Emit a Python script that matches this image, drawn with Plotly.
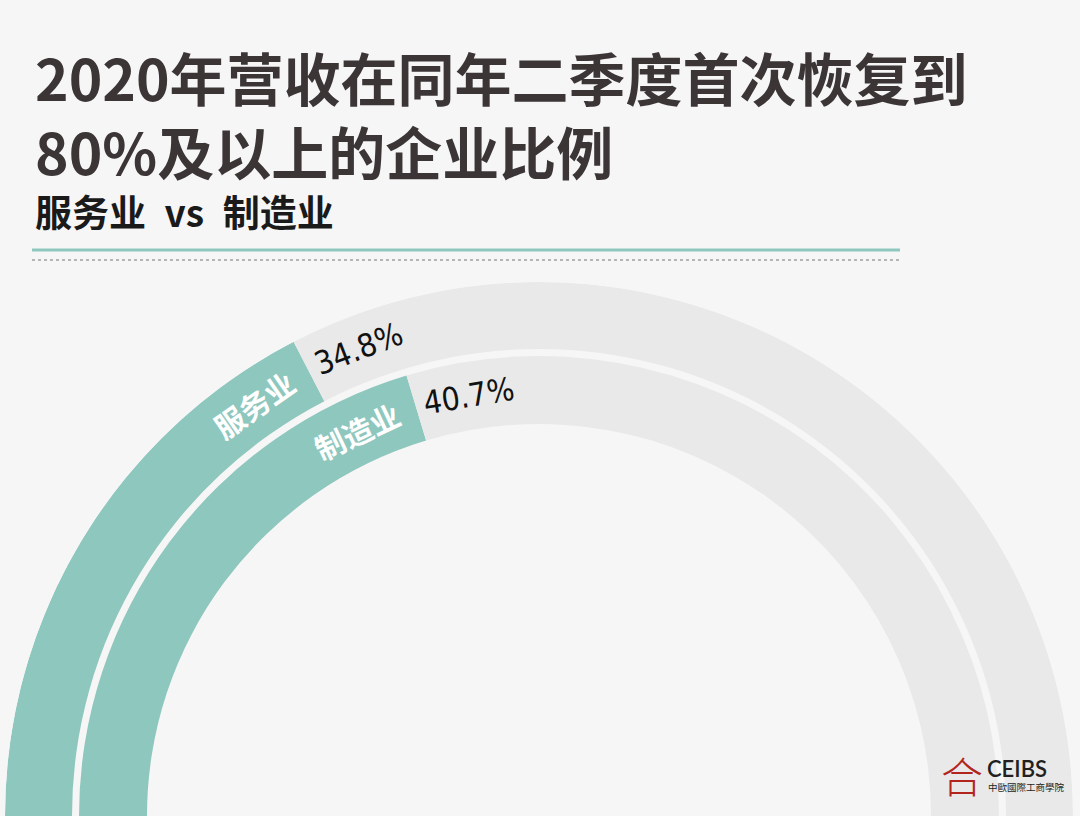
import math
import plotly.graph_objects as go

# ---- data ----
categories = ["服务业", "制造业"]
values = [34.8, 40.7]          # % of firms whose revenue recovered to >=80% in Q2 2020
value_labels = ["34.8%", "40.7%"]
title_line1 = "2020年营收在同年二季度首次恢复到"
title_line2 = "80%及以上的企业比例"
subtitle = "服务业\u2002vs\u2002制造业"

# ---- style / layout constants ----
W, H = 1080, 816
CX, CY = 539, 816               # centre of the half rings (px)
R_MAX = 534                      # outer radius (px)
band_inner = [467, 392]          # ring inner radii (px)
band_outer = [534, 460]          # ring outer radii (px)
TEAL = "#8EC7BE"
TRACK = "#E9E9E9"
BG = "#F6F6F6"
DEG_PER_PCT = 180 / 100


def px(x):
    return x / W


def py(y):
    return 1 - y / H


fig = go.Figure()

for i, (cat, v) in enumerate(zip(categories, values)):
    base = band_inner[i]
    thick = band_outer[i] - band_inner[i]
    filled = v * DEG_PER_PCT
    rest = 180 - filled
    fig.add_trace(go.Barpolar(
        r=[thick], base=[base], theta=[filled / 2], width=[filled],
        marker=dict(color=TEAL, line=dict(width=0)),
        hoverinfo="skip", showlegend=False, name=cat))
    fig.add_trace(go.Barpolar(
        r=[thick], base=[base], theta=[filled + rest / 2], width=[rest],
        marker=dict(color=TRACK, line=dict(width=0)),
        hoverinfo="skip", showlegend=False))

annotations = []
for i, (cat, v, lab) in enumerate(zip(categories, values, value_labels)):
    r_mid = (band_inner[i] + band_outer[i]) / 2
    a_b = 180 - v * DEG_PER_PCT                     # boundary angle (math degrees)
    for text, offset, color, fam, size in [
        (cat, 64, "white", "Noto Sans CJK SC", 30),
        (lab, -54, "#111111", "DejaVu Sans Condensed, DejaVu Sans", 32),
    ]:
        a = a_b + math.degrees(offset / r_mid)
        x = CX + r_mid * math.cos(math.radians(a))
        y = CY - r_mid * math.sin(math.radians(a))
        annotations.append(dict(
            x=px(x), y=py(y), xref="paper", yref="paper",
            text=text, showarrow=False, textangle=-(a - 90),
            xanchor="center", yanchor="middle",
            font=dict(family=fam, size=size, color=color,
                      weight="bold" if color == "white" else "normal")))

# titles
annotations += [
    dict(x=px(33), y=py(113), xref="paper", yref="paper",
         text=title_line1 + "<br>" + title_line2, align="left",
         showarrow=False, xanchor="left", yanchor="middle",
         font=dict(family="Noto Sans CJK SC", size=57, color="#3B3536", weight="bold")),
    dict(x=px(33), y=py(211), xref="paper", yref="paper", text=subtitle,
         showarrow=False, xanchor="left", yanchor="middle",
         font=dict(family="Noto Sans CJK SC", size=37, color="#1A1A1A", weight="bold")),
    # logo
    dict(x=px(962), y=py(774), xref="paper", yref="paper", text="合",
         showarrow=False, xanchor="center", yanchor="middle",
         font=dict(family="Noto Sans CJK SC", size=42, color="#B3261E", weight=300)),
    dict(x=px(985), y=py(768), xref="paper", yref="paper", text="CEIBS",
         showarrow=False, xanchor="left", yanchor="middle",
         font=dict(family="Lato, Inter", size=22, color="#231F20", weight=600)),
    dict(x=px(986), y=py(787), xref="paper", yref="paper", text="中歐國際工商學院",
         showarrow=False, xanchor="left", yanchor="middle",
         font=dict(family="Noto Sans CJK TC", size=9.5, color="#231F20")),
]

shapes = [
    dict(type="line", xref="paper", yref="paper", x0=px(32), x1=px(900),
         y0=py(250), y1=py(250), line=dict(color=TEAL, width=3)),
    dict(type="line", xref="paper", yref="paper", x0=px(32), x1=px(900),
         y0=py(260), y1=py(260), line=dict(color="#A0A0A0", width=1.5, dash="3px,3px")),
]

fig.update_layout(
    width=W, height=H,
    margin=dict(l=0, r=0, t=0, b=0),
    paper_bgcolor=BG, plot_bgcolor=BG,
    showlegend=False,
    annotations=annotations,
    shapes=shapes,
    barmode="overlay",
    polar=dict(
        domain=dict(x=[px(CX - R_MAX), px(CX + R_MAX)], y=[0, R_MAX / H]),
        sector=[0, 180],
        hole=0,
        bgcolor="rgba(0,0,0,0)",
        radialaxis=dict(range=[0, R_MAX], visible=False, showgrid=False),
        angularaxis=dict(rotation=180, direction="clockwise", visible=False,
                         showgrid=False),
    ),
)

fig.write_html(
    "out.html",
    config={"displayModeBar": False},
    post_script="document.body.style.margin='0';document.body.style.overflow='hidden';",
)
